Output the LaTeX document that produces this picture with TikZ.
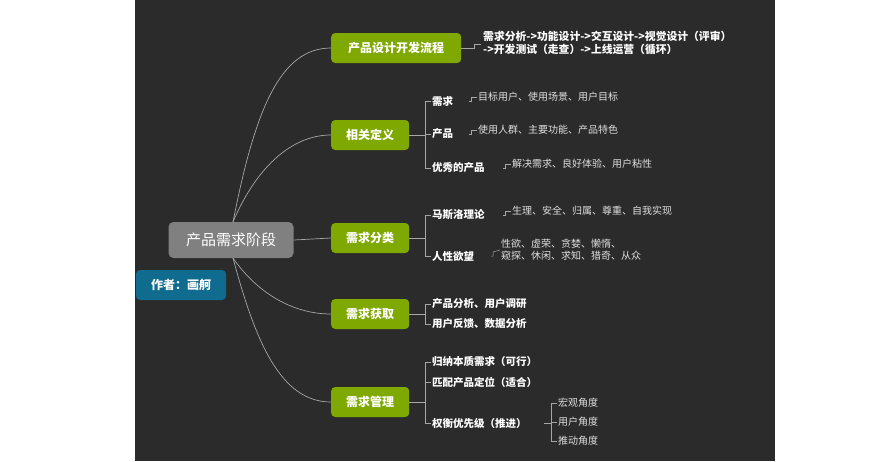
\documentclass[tikz,border=0pt]{standalone}
\usepackage{fontspec}
\setmainfont{Noto Sans CJK SC}
\begin{document}
\begin{tikzpicture}[x=1pt,y=-1pt,
  branch/.style={fill=brgreen,text=white,rounded corners=4pt,minimum height=30pt,minimum width=78pt,inner xsep=6pt,font=\fontsize{12}{13}\selectfont\bfseries},
  leaf/.style={text=white,anchor=west,inner sep=1pt,font=\fontsize{10.5}{11}\selectfont\bfseries},
  detail/.style={text=gray!25,anchor=west,inner sep=1pt,align=left,font=\fontsize{10}{12}\selectfont},
  conn/.style={draw=gray!70,line width=0.7pt},
  tick/.style={draw=gray!70,line width=0.5pt}]
\definecolor{bg}{HTML}{2B2B2B}
\definecolor{brgreen}{HTML}{7FA800}
\definecolor{author}{HTML}{0F6C8F}
\useasboundingbox (0,0) rectangle (893,461);
\fill[bg] (135,0) rectangle (775,461);
% root
\node[fill=gray,text=white,rounded corners=5pt,minimum width=125pt,minimum height=36pt,font=\fontsize{15}{16}\selectfont] (root) at (231,240) {产品需求阶段};
\node[fill=author,text=white,rounded corners=4pt,minimum width=90pt,minimum height=30pt,font=\fontsize{12}{13}\selectfont\bfseries] (auth) at (181,285) {作者：画舸};
% branches
\node[branch,anchor=west,minimum width=130pt] (b1) at (331,48) {产品设计开发流程};
\node[branch,anchor=west] (b2) at (331,135) {相关定义};
\node[branch,anchor=west] (b3) at (331,238) {需求分类};
\node[branch,anchor=west] (b4) at (331,314) {需求获取};
\node[branch,anchor=west] (b5) at (331,402) {需求管理};
\coordinate (rt) at (233,222);
\coordinate (rb) at (233,258);
\draw[conn] (rt) .. controls (255,110) and (280,48) .. (b1.west);
\draw[conn] (rt) .. controls (255,170) and (290,135) .. (b2.west);
\draw[conn] (root.east) -- (b3.west);
\draw[conn] (rb) .. controls (255,290) and (290,314) .. (b4.west);
\draw[conn] (rb) .. controls (255,340) and (280,402) .. (b5.west);
% b1 leaf
\node[leaf,align=left,font=\fontsize{10.8}{13}\selectfont\bfseries] (f1) at (482,43) {需求分析->功能设计->交互设计->视觉设计（评审）\\->开发测试（走查）->上线运营（循环）};
\draw[tick] (b1.east) -- (474,48) -- (474,44) -- (481,44);
% b2
\node[leaf] (d1) at (431,101) {需求};
\node[leaf] (d2) at (431,134) {产品};
\node[leaf] (d3) at (431,168) {优秀的产品};
\draw[tick] (b2.east) -- (425,135);
\draw[tick] (d1.west) -- (425,101) -- (425,168) -- (d3.west);
\draw[tick] (425,134) -- (d2.west);
\node[detail] (e1) at (477,97) {目标用户、使用场景、用户目标};
\node[detail] (e2) at (477,130) {使用人群、主要功能、产品特色};
\node[detail] (e3) at (511,164) {解决需求、良好体验、用户粘性};
\draw[tick] (469,101) -- (471,101) -- (471,97) -- (e1.west);
\draw[tick] (469,134) -- (471,134) -- (471,130) -- (e2.west);
\draw[tick] (503,168) -- (505,168) -- (505,164) -- (e3.west);
% b3
\node[leaf] (m1) at (431,215) {马斯洛理论};
\node[leaf] (m2) at (431,256) {人性欲望};
\draw[tick] (b3.east) -- (425,238);
\draw[tick] (m1.west) -- (425,215) -- (425,256) -- (m2.west);
\node[detail] (n1) at (511,211) {生理、安全、归属、尊重、自我实现};
\node[detail] (n2) at (500,250) {性欲、虚荣、贪婪、懒惰、\\窥探、休闲、求知、猎奇、从众};
\draw[tick] (503,215) -- (505,215) -- (505,211) -- (n1.west);
\draw[tick] (491,256) -- (493,256) -- (493,252) -- (n2.west);
% b4
\node[leaf] (g1) at (431,304) {产品分析、用户调研};
\node[leaf] (g2) at (431,324) {用户反馈、数据分析};
\draw[tick] (b4.east) -- (425,314);
\draw[tick] (g1.west) -- (425,304) -- (425,324) -- (g2.west);
% b5
\node[leaf] (h1) at (431,362) {归纳本质需求（可行）};
\node[leaf] (h2) at (431,382) {匹配产品定位（适合）};
\node[leaf] (h3) at (431,423) {权衡优先级（推进）};
\draw[tick] (b5.east) -- (425,402);
\draw[tick] (h1.west) -- (425,362) -- (425,423) -- (h3.west);
\draw[tick] (425,382) -- (h2.west);
\node[detail] (k1) at (557,403) {宏观角度};
\node[detail] (k2) at (557,422) {用户角度};
\node[detail] (k3) at (557,441) {推动角度};
\draw[tick] (544,423) -- (551,423);
\draw[tick] (k1.west) -- (551,403) -- (551,441) -- (k3.west);
\draw[tick] (551,422) -- (k2.west);
\end{tikzpicture}
\end{document}
